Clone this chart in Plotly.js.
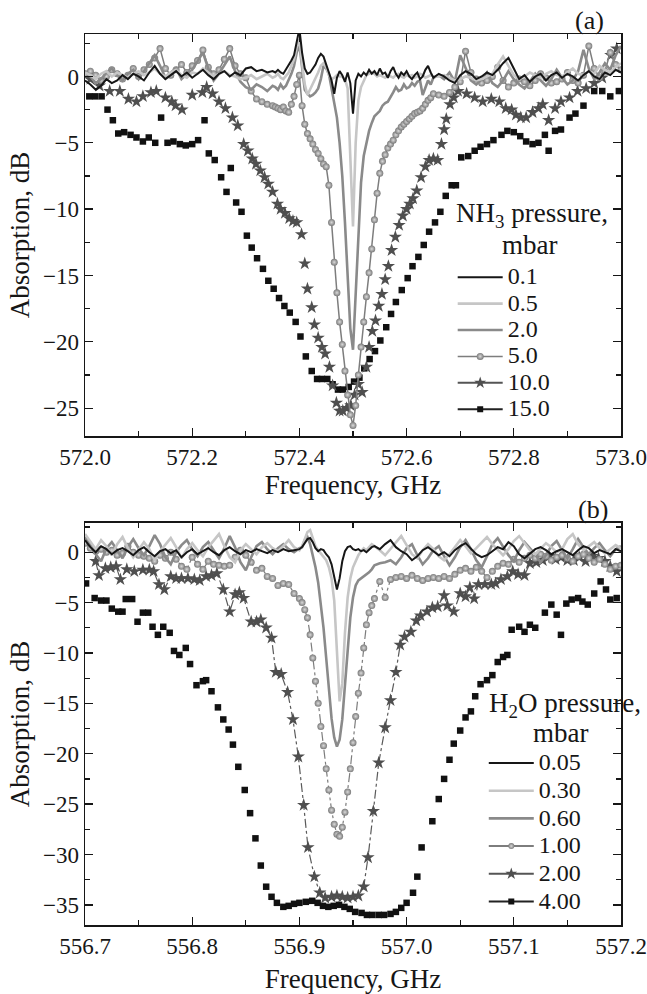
<!DOCTYPE html>
<html><head><meta charset="utf-8">
<script src="https://cdn.plot.ly/plotly-3.0.1.min.js"></script>
<style>html,body{margin:0;padding:0;background:#fff}#chart{width:647px;height:994px}</style>
</head><body><div id="chart"></div>
<script>
// ---------- Panel (a): NH3 ----------
const nh3Labels = ['0.1','0.5','2.0','5.0','10.0','15.0'];
const freqA = [572.00,572.01,572.02,572.03,572.04,572.05,572.06,572.07,572.08,572.09,572.10,572.11,572.12,572.13,572.14,572.15,572.16,572.17,572.18,572.19,572.20,572.21,572.22,572.23,572.24,572.25,572.26,572.27,572.28,572.29,572.30,572.31,572.32,572.33,572.34,572.35,
572.355,572.36,572.365,572.37,572.375,572.38,572.385,572.39,572.395,572.40,572.405,572.41,572.415,572.42,572.425,572.43,572.435,572.44,572.445,572.45,572.455,572.46,572.465,572.47,572.475,572.48,572.485,572.49,572.495,572.50,572.505,572.51,572.515,572.52,572.525,572.53,572.535,572.54,572.545,572.55,572.555,572.56,572.565,572.57,572.575,572.58,572.585,572.59,572.595,572.60,572.605,572.61,572.615,572.62,572.625,572.63,572.635,572.64,572.645,572.65,
572.66,572.67,572.68,572.69,572.70,572.71,572.72,572.73,572.74,572.75,572.76,572.77,572.78,572.79,572.80,572.81,572.82,572.83,572.84,572.85,572.86,572.87,572.88,572.89,572.90,572.91,572.92,572.93,572.94,572.95,572.96,572.97,572.98,572.99,573.00];
const nh3_01 = [-0.3,-0.6,-1.0,-0.7,-0.2,-0.5,-0.3,0.1,-0.2,0.2,0.0,-0.3,0.3,0.8,0.2,-0.2,0.1,0.4,0.0,0.3,-0.1,0.2,0.5,0.1,-0.2,0.2,0.4,0.0,0.3,0.1,0.6,0.7,0.4,0.5,0.3,0.4,
0.3,0.5,0.3,0.2,0.5,0.9,1.2,1.6,2.6,3.6,1.8,0.6,0.2,0.3,0.6,0.9,1.4,1.7,1.5,0.9,0.3,-0.3,-1.3,-0.1,0.4,0.1,-0.4,0.3,-0.5,-2.8,-0.3,0.2,0.0,0.3,0.1,0.5,0.2,0.4,0.1,0.6,0.2,0.3,-0.1,0.4,0.7,0.2,-0.1,0.3,0.1,0.4,0.0,-0.2,0.1,0.3,-0.2,0.0,0.5,0.8,0.3,-0.1,
0.2,0.0,-0.3,-0.5,0.1,0.4,0.2,-0.2,0.0,0.3,0.1,0.5,1.0,1.4,0.6,-0.2,0.1,-0.4,0.0,0.2,-0.3,0.1,0.3,-0.1,0.2,0.0,-0.3,0.1,0.4,0.0,-0.2,0.3,0.1,0.5,0.3];
const nh3_05 = [0.3,0.1,-0.2,0.2,0.4,0.0,0.3,0.1,-0.1,0.2,0.4,0.1,0.3,0.6,0.2,0.0,0.3,0.5,0.1,-0.1,0.3,0.2,0.6,0.3,0.0,0.2,0.4,0.1,0.0,-0.2,-0.1,0.1,-0.2,0.0,0.2,-0.1,
0.0,0.2,-0.1,-0.2,0.1,0.3,0.8,1.3,2.2,2.8,1.0,-0.6,-1.4,-1.0,-0.5,-0.2,0.3,0.8,1.0,0.7,0.1,-0.2,-0.1,0.1,0.0,0.0,-0.2,-0.9,-5.5,-11.3,-5.0,-1.8,-0.8,-0.3,0.1,0.2,0.3,0.2,0.0,0.1,0.0,-0.1,0.1,0.0,-0.1,0.1,0.2,0.0,-0.1,0.1,0.0,0.1,-0.1,0.0,0.2,0.1,-0.1,0.0,0.1,0.0,
0.0,0.1,-0.1,-0.3,-0.2,0.0,-0.1,-0.3,-0.2,0.0,0.2,0.9,1.5,0.8,0.1,-0.2,0.0,0.3,0.1,-0.1,0.2,0.4,0.1,0.0,0.3,0.6,0.2,0.1,0.4,0.2,0.8,0.5,0.3,0.7,1.0];
const nh3_20 = [0.4,0.0,-0.5,-0.2,0.3,0.6,0.1,-0.3,0.2,0.5,-0.2,0.4,1.0,1.6,0.8,-0.1,0.3,0.6,-0.2,0.2,0.5,1.2,1.8,0.6,-0.3,0.2,0.9,1.5,0.4,-0.4,-0.8,-1.0,-0.6,-0.8,-1.1,-0.7,
-0.8,-1.0,-0.6,-0.9,-0.7,-0.3,0.2,0.8,1.8,2.4,0.5,-1.0,-1.3,-1.5,-1.4,-1.2,-0.9,-0.2,0.8,0.6,0.2,-0.9,-2.0,-3.1,-5.0,-7.5,-11.0,-15.5,-19.0,-20.6,-16.5,-11.5,-8.0,-6.0,-5.0,-4.1,-3.5,-3.0,-2.8,-2.6,-2.2,-2.0,-1.9,-1.6,-1.2,-0.8,-1.1,-1.0,-0.6,-0.9,-0.8,-0.5,-0.7,-0.4,-0.3,-1.4,-0.8,-0.3,-0.6,-0.1,
0.1,-0.2,0.3,-0.4,1.6,0.6,-0.3,-0.6,-0.2,0.3,-0.5,-0.8,-0.3,0.4,-0.2,-0.6,-0.9,-0.4,0.2,-0.3,-0.7,-0.2,0.5,-0.1,-0.6,-0.3,0.4,2.0,0.6,-0.2,0.3,1.0,0.5,1.6,2.3];
const nh3_50 = [0.2,0.4,0.1,-0.3,0.0,0.5,0.2,-0.2,0.1,0.6,0.0,0.5,0.9,1.4,2.1,0.6,0.1,0.5,0.9,0.3,0.8,1.2,2.0,0.7,0.2,0.5,1.3,2.1,0.8,0.2,-0.1,-1.1,-1.7,-1.9,-2.1,-2.2,
-2.3,-2.4,-2.5,-2.3,-2.6,-2.7,-2.1,-1.5,-0.6,0.1,-2.2,-3.6,-4.3,-4.7,-5.1,-5.5,-5.8,-6.2,-6.6,-6.8,-8.2,-11.0,-14.0,-16.3,-18.5,-20.2,-22.2,-24.0,-25.5,-26.3,-24.8,-22.5,-20.4,-18.5,-16.6,-14.8,-13.0,-10.8,-8.8,-7.3,-6.4,-5.9,-5.4,-5.1,-4.8,-4.4,-4.1,-3.8,-3.6,-3.4,-3.2,-3.0,-2.8,-2.7,-2.6,-2.4,-2.1,-1.8,-1.6,-1.3,
-1.4,-1.5,-1.2,-0.8,-0.4,1.9,0.3,-0.2,-0.5,-0.3,0.0,0.7,-0.3,-0.8,-0.5,-0.2,-0.4,-0.7,-0.3,0.2,-0.1,-0.5,-0.4,-0.2,0.3,-0.3,-0.5,0.1,2.3,0.6,-0.1,0.4,1.8,0.9,0.5];
const nh3_100_freq = [572.010,572.027,572.046,572.065,572.081,572.096,572.108,572.123,572.133,572.150,572.162,572.169,572.181,572.200,572.219,572.227,572.238,572.250,572.262,572.275,572.285,572.296,572.304,572.312,572.319,572.327,572.335,572.342,572.350,572.359,572.365,572.373,572.381,572.388,572.395,572.404,572.410,572.415,572.423,572.428,572.435,572.442,572.448,572.456,572.462,572.469,572.475,572.481,572.488,572.496,572.503,572.510,572.517,572.525,572.530,572.536,572.542,572.548,572.554,572.560,572.566,572.572,572.579,572.586,572.593,572.600,572.606,572.612,572.619,572.627,572.635,572.642,572.650,572.658,572.665,572.670,572.674,572.681,572.688,572.696,572.712,572.727,572.742,572.758,572.773,572.785,572.796,572.804,572.813,572.823,572.835,572.846,572.854,572.865,572.877,572.888,572.904,572.919,572.935,572.950,572.965,572.981,572.992];
const nh3_100 = [-0.2,-0.7,-1.1,-1.1,-1.7,-1.9,-1.5,-1.2,-1.1,-1.6,-1.9,-2.2,-2.5,-1.4,-1.2,-0.8,-1.3,-1.9,-2.4,-3.1,-3.7,-5.1,-5.6,-6.2,-6.6,-7.1,-7.6,-8.1,-8.7,-9.6,-10.0,-10.3,-10.7,-10.9,-11.0,-11.9,-14.1,-16.0,-17.4,-18.7,-19.7,-20.4,-20.9,-21.9,-23.3,-24.6,-25.2,-25.2,-25.0,-24.8,-24.0,-23.2,-23.8,-21.9,-20.4,-19.2,-18.4,-17.3,-16.4,-15.3,-14.3,-13.1,-12.1,-11.2,-10.5,-10.0,-9.6,-9.2,-8.6,-7.6,-6.8,-6.3,-6.2,-6.3,-5.1,-4.0,-3.2,-2.1,-1.6,-1.1,-1.3,-1.6,-1.9,-1.7,-1.9,-2.4,-2.5,-2.9,-3.1,-3.1,-2.7,-2.4,-2.1,-3.3,-2.4,-1.9,-1.6,-1.1,-0.9,-0.5,-0.1,1.6,2.1];
const nh3_150_freq = [572.008,572.019,572.031,572.042,572.052,572.062,572.073,572.085,572.096,572.108,572.119,572.131,572.142,572.154,572.165,572.177,572.188,572.200,572.211,572.223,572.231,572.242,572.254,572.264,572.272,572.282,572.292,572.302,572.311,572.321,572.332,572.342,572.352,572.362,572.372,572.382,572.393,572.402,572.412,572.423,572.433,572.442,572.452,572.462,572.472,572.481,572.492,572.502,572.512,572.521,572.531,572.541,572.551,572.562,572.571,572.580,572.591,572.602,572.611,572.622,572.632,572.642,572.653,572.663,572.673,572.684,572.692,572.702,572.715,572.727,572.738,572.750,572.762,572.777,572.788,572.800,572.812,572.823,572.835,572.846,572.858,572.865,572.877,572.888,572.904,572.915,572.930,572.950,572.965,572.980,572.996];
const nh3_150 = [-1.5,-1.5,-1.5,-2.5,-3.3,-4.3,-4.2,-4.4,-4.6,-4.9,-4.6,-5.0,-3.1,-5.0,-4.9,-5.1,-5.2,-5.1,-4.8,-3.3,-5.8,-6.3,-7.6,-8.7,-6.9,-9.5,-10.2,-12.0,-12.9,-13.7,-14.5,-15.4,-16.0,-16.7,-17.3,-17.8,-18.5,-19.6,-21.1,-22.2,-22.8,-22.8,-22.8,-23.2,-23.6,-23.6,-23.4,-23.0,-22.7,-22.0,-21.3,-20.7,-19.9,-18.9,-17.9,-17.0,-16.1,-15.2,-14.3,-13.6,-12.7,-11.7,-11.0,-10.2,-9.0,-8.2,-8.2,-6.1,-6.0,-5.6,-5.3,-5.1,-4.8,-4.4,-4.1,-4.2,-4.5,-4.9,-5.1,-5.0,-4.4,-5.6,-4.1,-4.0,-3.1,-2.8,-2.2,-1.1,-1.1,-1.5,-1.1];

// ---------- Panel (b): H2O ----------
const h2oLabels = ['0.05','0.30','0.60','1.00','2.00','4.00'];
const freqB = [556.700,556.705,556.710,556.715,556.720,556.725,556.730,556.735,556.740,556.745,556.750,556.755,556.760,556.765,556.770,556.775,556.780,556.785,556.790,556.795,556.800,556.805,556.810,556.815,556.820,556.825,556.830,556.835,556.840,556.845,556.850,556.855,556.860,556.865,556.870,556.875,556.880,556.885,556.890,556.895,556.900,
556.9025,556.905,556.9075,556.910,556.9125,556.915,556.9175,556.920,556.9225,556.925,556.9275,556.930,556.9325,556.935,556.9375,556.940,556.9425,556.945,556.9475,556.950,556.9525,556.955,556.9575,556.960,556.9625,556.965,556.9675,
556.970,556.975,556.980,556.985,556.990,556.995,557.000,557.005,557.010,557.015,557.020,557.025,557.030,557.035,557.040,557.045,557.050,557.055,557.060,557.065,557.070,557.075,557.080,557.085,557.090,557.095,557.100,557.105,557.110,557.115,557.120,557.125,557.130,557.135,557.140,557.145,557.150,557.155,557.160,557.165,557.170,557.175,557.180,557.185,557.190,557.195,557.200];
const h2o_005 = [1.2,0.5,0.0,0.6,0.3,-0.2,0.2,0.4,0.1,-0.3,0.2,0.5,0.0,-0.4,0.1,0.3,-0.1,0.2,-0.5,0.0,0.3,-0.2,0.1,0.4,0.0,-0.3,0.2,0.5,0.1,-0.2,0.2,0.0,0.3,0.1,-0.1,0.2,0.0,0.3,0.1,0.2,0.3,
0.5,0.9,1.3,1.4,1.0,0.4,0.1,0.3,0.2,-0.2,-0.5,-1.2,-2.4,-3.7,-2.6,-0.9,0.1,0.5,0.6,0.3,0.2,0.3,0.1,0.2,0.0,0.3,0.5,
0.6,0.3,0.8,1.2,0.5,0.1,-0.2,-0.8,-0.4,0.2,0.5,0.1,-0.3,0.0,-0.4,0.2,0.6,0.9,0.3,-0.2,-0.5,-0.3,0.1,0.5,0.3,1.0,0.6,-0.2,-0.6,-0.1,0.3,0.5,0.2,-0.2,0.1,0.3,0.0,-0.3,0.2,0.6,0.4,-0.1,0.2,0.0,-0.2,0.3,0.1];
const h2o_030 = [1.8,1.0,0.3,1.2,0.6,-0.3,0.8,1.5,0.4,-0.5,0.2,1.0,0.3,-0.8,0.1,0.7,1.4,0.5,-0.6,0.3,0.9,0.2,-0.4,0.5,1.2,1.8,0.6,-0.5,-1.0,0.2,0.8,0.3,-0.2,0.5,0.9,0.4,0.1,0.6,1.2,0.5,0.2,
0.6,1.3,2.0,2.2,1.5,0.6,0.2,-0.1,-0.4,-0.8,-1.5,-2.6,-4.8,-9.5,-14.8,-13.0,-8.0,-4.5,-2.6,-1.5,-0.8,-0.3,0.1,0.4,0.2,0.5,0.8,
0.6,0.2,-0.3,0.3,1.0,1.6,0.7,-0.2,-0.6,0.2,0.8,0.3,-0.4,-0.8,-0.2,0.5,1.2,0.6,-0.1,0.4,1.0,1.5,0.8,0.2,-0.3,0.3,1.1,1.6,0.9,0.2,-0.2,0.4,0.9,0.5,0.0,0.3,1.3,1.8,0.8,0.2,0.6,1.0,0.4,-0.1,0.3,0.7,0.4];
const h2o_060 = [1.5,0.8,-0.2,-0.9,0.4,1.0,0.2,-0.6,0.5,1.3,0.4,-0.3,0.6,1.7,0.8,-0.5,-1.2,0.0,0.7,1.2,0.3,-0.4,0.5,1.0,0.2,-0.6,0.4,1.6,0.5,-1.0,-1.8,-0.5,0.6,1.0,0.3,-0.2,0.4,0.8,0.3,0.0,0.4,
0.5,1.2,1.5,0.8,-0.3,-1.5,-3.0,-5.0,-7.5,-10.5,-13.8,-16.5,-18.4,-19.3,-18.6,-16.6,-13.2,-9.6,-6.5,-4.5,-3.3,-2.8,-2.6,-2.4,-2.2,-2.0,-1.7,
-1.3,-1.1,-1.0,-0.8,-1.2,-0.5,0.4,0.8,-0.3,-1.2,-0.6,0.2,0.6,-0.4,-1.3,-0.5,0.5,1.2,0.3,-0.8,-1.5,-0.4,0.8,1.4,0.5,-0.3,-0.9,0.2,1.0,0.4,-0.2,-1.0,-0.3,0.6,1.1,0.2,-0.6,0.3,1.3,0.5,-0.2,0.4,0.9,0.2,-0.4,0.3,0.6];
const h2o_100 = [0.9,0.4,0.1,0.3,0.0,0.2,-0.3,-0.1,0.6,0.0,-0.3,-0.4,-0.6,-0.9,-0.3,-0.6,0.0,-0.7,-1.4,-1.7,-0.5,-1.2,-1.7,-0.9,-1.2,-1.3,-1.4,-1.3,-0.5,0.2,-0.3,-1.0,-1.8,-1.6,-2.4,-2.6,-3.3,-3.1,-3.2,-4.1,-4.6,
-5.0,-5.7,-6.5,-8.2,-10.5,-12.8,-15.0,-17.3,-19.2,-21.5,-23.6,-25.6,-27.0,-28.0,-28.2,-27.3,-25.8,-23.8,-21.5,-18.9,-16.3,-14.0,-12.0,-9.5,-7.2,-6.0,-5.3,
-4.6,-2.9,-4.5,-2.7,-2.5,-2.4,-2.6,-2.3,-2.6,-2.8,-2.6,-2.5,-2.6,-2.4,-2.6,-2.2,-1.8,-1.6,-1.9,-1.5,-1.9,-2.5,-1.9,-1.4,-1.1,-1.2,-0.7,-1.0,-0.6,-0.3,-0.6,-0.2,-0.4,-0.8,-0.5,-0.3,-0.6,-0.9,-0.4,-0.2,-0.6,-1.0,-0.7,-1.2,-1.7,-1.4,-1.3];
const h2o_200_freq = [556.710,556.713,556.719,556.724,556.729,556.733,556.739,556.746,556.754,556.760,556.764,556.769,556.774,556.780,556.785,556.790,556.796,556.802,556.807,556.813,556.818,556.823,556.829,556.835,556.840,556.844,556.848,556.855,556.860,556.864,556.869,556.874,556.878,556.883,556.889,556.894,556.899,556.904,556.908,556.914,556.919,556.924,556.930,556.935,556.940,556.945,556.950,556.955,556.960,556.964,556.969,556.974,556.980,556.985,556.990,556.994,556.998,557.004,557.009,557.013,557.019,557.024,557.029,557.035,557.038,557.044,557.050,557.055,557.059,557.063,557.067,557.073,557.079,557.083,557.088,557.094,557.099,557.104,557.110,557.115,557.121,557.127,557.133,557.139,557.144,557.150,557.156,557.161,557.167,557.173,557.179,557.185,557.190,557.196];
const h2o_200 = [-0.9,-2.3,-1.6,-1.5,-1.4,-2.7,-1.7,-1.9,-1.75,-1.75,-1.9,-3.2,-3.7,-2.4,-2.6,-2.6,-2.6,-2.7,-2.8,-2.4,-2.3,-2.1,-3.7,-5.9,-4.2,-4.0,-4.55,-6.9,-6.9,-6.7,-7.5,-8.5,-11.9,-12.1,-13.9,-16.6,-20.3,-25.1,-29.3,-32.2,-33.8,-34.3,-34.2,-34.1,-34.2,-34.3,-34.2,-34.1,-33.2,-30.3,-25.7,-20.9,-17.4,-14.7,-11.9,-9.2,-8.4,-7.9,-6.8,-6.3,-5.9,-5.5,-5.4,-4.3,-5.3,-5.9,-4.1,-4.4,-3.5,-4.6,-3.2,-3.2,-3.2,-3.1,-2.7,-2.4,-1.9,-2.2,-2.3,-1.1,-1.0,-0.8,-0.4,-0.7,-0.5,-0.8,-0.8,-0.5,-0.9,-0.4,-0.6,-0.9,-1.4,-1.9];
const h2o_400_freq = [556.701,556.709,556.715,556.720,556.725,556.731,556.735,556.738,556.744,556.749,556.754,556.759,556.763,556.768,556.773,556.779,556.783,556.788,556.794,556.798,556.804,556.810,556.813,556.818,556.824,556.829,556.834,556.838,556.843,556.849,556.854,556.859,556.864,556.869,556.874,556.879,556.885,556.890,556.895,556.900,556.906,556.912,556.917,556.922,556.927,556.932,556.937,556.942,556.947,556.952,556.958,556.963,556.968,556.974,556.979,556.985,556.990,556.995,557.000,557.006,557.010,557.014,557.024,557.030,557.035,557.040,557.044,557.050,557.055,557.060,557.064,557.069,557.075,557.080,557.085,557.090,557.094,557.098,557.105,557.110,557.115,557.120,557.129,557.135,557.140,557.144,557.149,557.154,557.160,557.164,557.169,557.175,557.181,557.186,557.190,557.196];
const h2o_400 = [-3.1,-4.55,-4.8,-4.8,-5.6,-5.9,-5.9,-4.65,-4.65,-6.9,-6.0,-6.0,-7.4,-8.2,-7.4,-8.0,-9.8,-10.2,-9.5,-11.1,-13.2,-12.8,-12.7,-13.8,-15.4,-16.6,-17.6,-19.1,-21.3,-23.6,-25.9,-28.4,-31.1,-33.2,-34.2,-34.8,-35.2,-35.1,-34.9,-34.8,-34.7,-34.6,-34.8,-35.1,-35.2,-35.1,-35.0,-35.2,-35.4,-35.7,-35.8,-36.0,-36.0,-36.0,-36.0,-35.9,-35.7,-35.3,-34.8,-33.8,-32.2,-29.3,-26.7,-24.5,-22.5,-20.6,-19.0,-17.7,-16.4,-15.8,-14.3,-13.1,-12.7,-12.2,-10.9,-10.4,-10.2,-7.7,-7.4,-7.9,-7.2,-7.5,-6.0,-5.2,-6.2,-8.2,-5.1,-4.7,-4.55,-4.9,-5.2,-4.1,-2.9,-3.7,-4.7,-4.55];

// ---------- styles ----------
const FONT = 'Liberation Serif';
const INK = '#161616';
const sBlack = {color: INK, width: 2};
const sLight = {color: '#c6c6c6', width: 2.6};
const sMid = {color: '#8a8a8a', width: 2.6};
const mCircle = {symbol: 'circle', size: 7, color: '#7a7a7a', gradient: {type: 'radial', color: '#dadada'}, line: {width: 0}};
const mStar = {symbol: 'star', size: 10, color: '#4f4f4f', line: {width: 0}};
const mSquare = {symbol: 'square', size: 6.5, color: '#111111', line: {width: 0}};
const LEG_TEXT = 24;

function legName(s) { return '<span style="font-size:' + LEG_TEXT + 'px">' + s + '</span>'; }
function lineTrace(x, y, name, style, ax, leg, rank) {
  return {type: 'scatter', mode: 'lines', x: x, y: y, name: legName(name), line: style,
          xaxis: ax[0], yaxis: ax[1], legend: leg, legendrank: rank, hoverinfo: 'skip'};
}
function markTrace(x, y, marker, lineStyle, ax) {
  return {type: 'scatter', mode: lineStyle ? 'lines+markers' : 'markers', x: x, y: y,
          marker: marker, line: lineStyle || {width: 0}, showlegend: false,
          xaxis: ax[0], yaxis: ax[1], hoverinfo: 'skip'};
}
function legendProxy(name, marker, color, ax, leg, rank) {
  return {type: 'scatter', mode: 'lines+markers', x: [null], y: [null], name: legName(name),
          marker: Object.assign({}, marker, {size: marker.symbol === 'star' ? 9 : 6}),
          line: {color: color, width: 2}, xaxis: ax[0], yaxis: ax[1], legend: leg, legendrank: rank};
}

const A = ['x', 'y'], B = ['x2', 'y2'];
const data = [
  markTrace(nh3_150_freq, nh3_150, mSquare, null, A),
  markTrace(nh3_100_freq, nh3_100, mStar, null, A),
  Object.assign(markTrace(freqA, nh3_50, mCircle, {color: '#7d7d7d', width: 1.5}, A),
                {showlegend: true, name: legName(nh3Labels[3]), legend: 'legend', legendrank: 4}),
  lineTrace(freqA, nh3_20, nh3Labels[2], sMid, A, 'legend', 3),
  lineTrace(freqA, nh3_05, nh3Labels[1], sLight, A, 'legend', 2),
  lineTrace(freqA, nh3_01, nh3Labels[0], sBlack, A, 'legend', 1),
  legendProxy(nh3Labels[4], mStar, '#555555', A, 'legend', 5),
  legendProxy(nh3Labels[5], mSquare, '#222222', A, 'legend', 6),
  markTrace(h2o_400_freq, h2o_400, mSquare, null, B),
  markTrace(h2o_200_freq, h2o_200, mStar, {color: '#5a5a5a', width: 1.2, dash: 'dashdot'}, B),
  markTrace(freqB, h2o_100, mCircle, {color: '#7d7d7d', width: 1.2, dash: 'dashdot'}, B),
  lineTrace(freqB, h2o_060, h2oLabels[2], sMid, B, 'legend2', 3),
  lineTrace(freqB, h2o_030, h2oLabels[1], sLight, B, 'legend2', 2),
  lineTrace(freqB, h2o_005, h2oLabels[0], sBlack, B, 'legend2', 1),
  legendProxy(h2oLabels[3], mCircle, '#7d7d7d', B, 'legend2', 4),
  legendProxy(h2oLabels[4], mStar, '#555555', B, 'legend2', 5),
  legendProxy(h2oLabels[5], mSquare, '#222222', B, 'legend2', 6)
];

const axisBase = {
  showline: true, linecolor: INK, linewidth: 1.5, mirror: 'allticks',
  ticks: 'inside', ticklen: 8, tickwidth: 1.3, tickcolor: INK,
  showgrid: false, zeroline: false, ticklabeloverflow: 'allow',
  tickfont: {family: FONT, size: 23, color: INK}
};
const minorBase = {ticks: 'inside', ticklen: 5, tickwidth: 1.3, tickcolor: INK, showgrid: false};
const titleFont = {family: FONT, size: 27, color: INK};

function ann(x, y, text, size) {
  return {xref: 'paper', yref: 'paper', x: x, y: y, xanchor: 'center', yanchor: 'middle', showarrow: false,
          align: 'center', text: text, font: {family: FONT, size: size, color: INK}};
}

const layout = {
  width: 647, height: 994,
  margin: {l: 85, r: 26, t: 34, b: 69},
  paper_bgcolor: '#ffffff', plot_bgcolor: '#ffffff',
  font: {family: FONT, color: INK},
  showlegend: true,
  xaxis: Object.assign({}, axisBase, {domain: [0, 1], anchor: 'y', range: [572, 573], tick0: 572, dtick: 0.2, tickformat: '.1f',
    minor: Object.assign({}, minorBase, {tick0: 572, dtick: 0.1}),
    title: {text: 'Frequency, GHz', font: titleFont, standoff: 3}}),
  yaxis: Object.assign({}, axisBase, {domain: [0.5488, 1], anchor: 'x', range: [-27.1, 3.2], tick0: 0, dtick: 5,
    minor: Object.assign({}, minorBase, {tick0: 0, dtick: 2.5}),
    title: {text: 'Absorption, dB', font: titleFont, standoff: 5}}),
  xaxis2: Object.assign({}, axisBase, {domain: [0, 1], anchor: 'y2', range: [556.7, 557.2], tick0: 556.7, dtick: 0.1, tickformat: '.1f',
    minor: Object.assign({}, minorBase, {tick0: 556.7, dtick: 0.05}),
    title: {text: 'Frequency, GHz', font: titleFont, standoff: 13}}),
  yaxis2: Object.assign({}, axisBase, {domain: [0, 0.4512], anchor: 'x2', range: [-37.0, 2.9], tick0: 0, dtick: 5,
    minor: Object.assign({}, minorBase, {tick0: 0, dtick: 2.5}),
    title: {text: 'Absorption, dB', font: titleFont, standoff: 5}}),
  legend: {x: 0.686, xanchor: 'left', y: 0.7475, yanchor: 'top', bgcolor: 'rgba(0,0,0,0)', borderwidth: 0,
    font: {family: FONT, size: 18, color: INK}, itemwidth: 45, tracegroupgap: 0, traceorder: 'normal'},
  legend2: {x: 0.744, xanchor: 'left', y: 0.203, yanchor: 'top', bgcolor: 'rgba(0,0,0,0)', borderwidth: 0,
    font: {family: FONT, size: 19, color: INK}, itemwidth: 45, tracegroupgap: 0, traceorder: 'normal'},
  annotations: [
    ann(0.8340, 0.7969, 'NH<sub>3</sub> pressure,', 27),
    ann(0.8284, 0.7632, 'mbar', 27),
    ann(0.8955, 0.2470, 'H<sub>2</sub>O pressure,', 27),
    ann(0.8862, 0.2150, 'mbar', 27),
    ann(0.942, 1.0157, '(a)', 26),
    ann(0.948, 0.4658, '(b)', 26)
  ]
};

Plotly.newPlot('chart', data, layout, {staticPlot: true, displayModeBar: false});
</script></body></html>
